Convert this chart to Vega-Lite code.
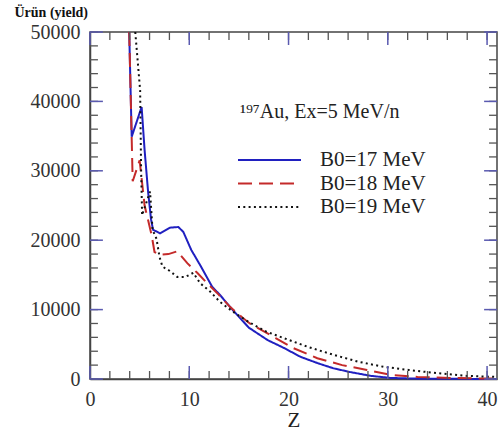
{
  "$schema": "https://vega.github.io/schema/vega-lite/v6.json",
  "width": 407,
  "height": 347,
  "autosize": "none",
  "padding": {"left": 90, "top": 32, "right": 2, "bottom": 55},
  "background": "white",
  "config": {"view": {"stroke": "#444", "strokeWidth": 1.5}},
  "datasets": {
    "curves": [
      {"z": 3.95, "yield": 50000, "series": "B0=17 MeV"},
      {"z": 4.2, "yield": 34900, "series": "B0=17 MeV"},
      {"z": 5.2, "yield": 39200, "series": "B0=17 MeV"},
      {"z": 5.5, "yield": 33000, "series": "B0=17 MeV"},
      {"z": 5.85, "yield": 27000, "series": "B0=17 MeV"},
      {"z": 6.15, "yield": 23000, "series": "B0=17 MeV"},
      {"z": 6.35, "yield": 21500, "series": "B0=17 MeV"},
      {"z": 7.05, "yield": 21000, "series": "B0=17 MeV"},
      {"z": 8.05, "yield": 21800, "series": "B0=17 MeV"},
      {"z": 8.9, "yield": 21900, "series": "B0=17 MeV"},
      {"z": 9.4, "yield": 21200, "series": "B0=17 MeV"},
      {"z": 10.2, "yield": 18600, "series": "B0=17 MeV"},
      {"z": 11.1, "yield": 16400, "series": "B0=17 MeV"},
      {"z": 12.3, "yield": 13300, "series": "B0=17 MeV"},
      {"z": 13.1, "yield": 12100, "series": "B0=17 MeV"},
      {"z": 14.4, "yield": 9900, "series": "B0=17 MeV"},
      {"z": 16.0, "yield": 7400, "series": "B0=17 MeV"},
      {"z": 17.9, "yield": 5600, "series": "B0=17 MeV"},
      {"z": 19.5, "yield": 4500, "series": "B0=17 MeV"},
      {"z": 21.2, "yield": 3200, "series": "B0=17 MeV"},
      {"z": 22.9, "yield": 2300, "series": "B0=17 MeV"},
      {"z": 24.5, "yield": 1550, "series": "B0=17 MeV"},
      {"z": 26.2, "yield": 1000, "series": "B0=17 MeV"},
      {"z": 28.3, "yield": 450, "series": "B0=17 MeV"},
      {"z": 30.3, "yield": 150, "series": "B0=17 MeV"},
      {"z": 33.0, "yield": 50, "series": "B0=17 MeV"},
      {"z": 41.0, "yield": 0, "series": "B0=17 MeV"},

      {"z": 3.95, "yield": 50000, "series": "B0=18 MeV"},
      {"z": 4.3, "yield": 28500, "series": "B0=18 MeV"},
      {"z": 5.0, "yield": 31500, "series": "B0=18 MeV"},
      {"z": 5.5, "yield": 25000, "series": "B0=18 MeV"},
      {"z": 5.85, "yield": 22900, "series": "B0=18 MeV"},
      {"z": 6.2, "yield": 20800, "series": "B0=18 MeV"},
      {"z": 6.5, "yield": 18300, "series": "B0=18 MeV"},
      {"z": 7.0, "yield": 17900, "series": "B0=18 MeV"},
      {"z": 7.9, "yield": 18000, "series": "B0=18 MeV"},
      {"z": 8.8, "yield": 18400, "series": "B0=18 MeV"},
      {"z": 9.8, "yield": 16700, "series": "B0=18 MeV"},
      {"z": 10.8, "yield": 15300, "series": "B0=18 MeV"},
      {"z": 11.8, "yield": 13800, "series": "B0=18 MeV"},
      {"z": 12.8, "yield": 12400, "series": "B0=18 MeV"},
      {"z": 14.1, "yield": 10400, "series": "B0=18 MeV"},
      {"z": 15.4, "yield": 8800, "series": "B0=18 MeV"},
      {"z": 16.1, "yield": 8000, "series": "B0=18 MeV"},
      {"z": 18.7, "yield": 5900, "series": "B0=18 MeV"},
      {"z": 20.4, "yield": 4500, "series": "B0=18 MeV"},
      {"z": 22.9, "yield": 3000, "series": "B0=18 MeV"},
      {"z": 25.4, "yield": 2000, "series": "B0=18 MeV"},
      {"z": 27.9, "yield": 1300, "series": "B0=18 MeV"},
      {"z": 30.3, "yield": 600, "series": "B0=18 MeV"},
      {"z": 33.0, "yield": 300, "series": "B0=18 MeV"},
      {"z": 36.3, "yield": 150, "series": "B0=18 MeV"},
      {"z": 41.0, "yield": 50, "series": "B0=18 MeV"},

      {"z": 4.56, "yield": 50000, "series": "B0=19 MeV"},
      {"z": 5.05, "yield": 41600, "series": "B0=19 MeV"},
      {"z": 5.15, "yield": 30000, "series": "B0=19 MeV"},
      {"z": 5.25, "yield": 23600, "series": "B0=19 MeV"},
      {"z": 6.05, "yield": 27000, "series": "B0=19 MeV"},
      {"z": 6.3, "yield": 21500, "series": "B0=19 MeV"},
      {"z": 6.7, "yield": 20200, "series": "B0=19 MeV"},
      {"z": 7.0, "yield": 17600, "series": "B0=19 MeV"},
      {"z": 7.3, "yield": 16200, "series": "B0=19 MeV"},
      {"z": 8.0, "yield": 15600, "series": "B0=19 MeV"},
      {"z": 8.8, "yield": 14700, "series": "B0=19 MeV"},
      {"z": 9.6, "yield": 14700, "series": "B0=19 MeV"},
      {"z": 10.4, "yield": 15300, "series": "B0=19 MeV"},
      {"z": 11.1, "yield": 13800, "series": "B0=19 MeV"},
      {"z": 12.1, "yield": 12600, "series": "B0=19 MeV"},
      {"z": 13.1, "yield": 11100, "series": "B0=19 MeV"},
      {"z": 14.4, "yield": 9700, "series": "B0=19 MeV"},
      {"z": 16.0, "yield": 8200, "series": "B0=19 MeV"},
      {"z": 17.8, "yield": 6800, "series": "B0=19 MeV"},
      {"z": 19.5, "yield": 5900, "series": "B0=19 MeV"},
      {"z": 22.0, "yield": 4600, "series": "B0=19 MeV"},
      {"z": 24.5, "yield": 3500, "series": "B0=19 MeV"},
      {"z": 27.0, "yield": 2500, "series": "B0=19 MeV"},
      {"z": 29.6, "yield": 1750, "series": "B0=19 MeV"},
      {"z": 32.1, "yield": 1300, "series": "B0=19 MeV"},
      {"z": 34.6, "yield": 900, "series": "B0=19 MeV"},
      {"z": 38.0, "yield": 450, "series": "B0=19 MeV"},
      {"z": 41.0, "yield": 300, "series": "B0=19 MeV"}
    ],
    "xticks": [{"z": 0}, {"z": 2}, {"z": 4}, {"z": 6}, {"z": 8}, {"z": 10}, {"z": 12}, {"z": 14}, {"z": 16}, {"z": 18}, {"z": 20}, {"z": 22}, {"z": 24}, {"z": 26}, {"z": 28}, {"z": 30}, {"z": 32}, {"z": 34}, {"z": 36}, {"z": 38}, {"z": 40}],
    "yticks": [{"yield": 0}, {"yield": 2000}, {"yield": 4000}, {"yield": 6000}, {"yield": 8000}, {"yield": 10000}, {"yield": 12000}, {"yield": 14000}, {"yield": 16000}, {"yield": 18000}, {"yield": 20000}, {"yield": 22000}, {"yield": 24000}, {"yield": 26000}, {"yield": 28000}, {"yield": 30000}, {"yield": 32000}, {"yield": 34000}, {"yield": 36000}, {"yield": 38000}, {"yield": 40000}, {"yield": 42000}, {"yield": 44000}, {"yield": 46000}, {"yield": 48000}, {"yield": 50000}],
    "one": [{"note": "¹⁹⁷Au, Ex=5 MeV/n"}]
  },
  "layer": [
    {
      "data": {"name": "curves"},
      "mark": {"type": "line", "strokeWidth": 2},
      "encoding": {
        "x": {
          "field": "z", "type": "quantitative", "title": "Z",
          "scale": {"domain": [0, 41], "nice": false, "zero": false},
          "axis": {
            "orient": "bottom", "title": "Z",
            "values": [0, 10, 20, 30, 40],
            "ticks": false, "tickSize": 0, "grid": false,
            "domainColor": "#444", "domainWidth": 1.5,
            "labelFont": "Liberation Serif", "labelFontSize": 20, "labelColor": "#333",
            "labelPadding": 10, "labelFlush": false,
            "titleFont": "Liberation Serif", "titleFontSize": 21, "titleFontWeight": "normal",
            "titleColor": "#222", "titlePadding": 0
          }
        },
        "y": {
          "field": "yield", "type": "quantitative", "title": "Ürün (yield)",
          "scale": {"domain": [0, 50000], "nice": false},
          "axis": {
            "orient": "left",
            "values": [0, 10000, 20000, 30000, 40000, 50000],
            "format": "d",
            "ticks": false, "tickSize": 0, "grid": false,
            "domainColor": "#444", "domainWidth": 1.5,
            "labelFont": "Liberation Serif", "labelFontSize": 20, "labelColor": "#333",
            "labelPadding": 10, "labelFlush": false,
            "title": "Ürün (yield)", "titleAngle": 0, "titleAlign": "left", "titleBaseline": "middle",
            "titleX": -76, "titleY": -20,
            "titleFont": "Liberation Serif", "titleFontSize": 14, "titleFontWeight": "bold", "titleColor": "#111"
          }
        },
        "color": {
          "field": "series", "type": "nominal",
          "scale": {"domain": ["B0=17 MeV", "B0=18 MeV", "B0=19 MeV"], "range": ["#2020c0", "#c42a2a", "#111111"]},
          "legend": {
            "orient": "none", "legendX": 147, "legendY": 118, "title": null,
            "symbolType": "stroke", "symbolSize": 3969, "symbolStrokeWidth": 2,
            "clipHeight": 20,
            "labelFont": "Liberation Serif", "labelFontSize": 21, "labelColor": "#222",
            "labelOffset": 18, "rowPadding": 2.5
          }
        },
        "strokeDash": {
          "field": "series", "type": "nominal",
          "scale": {"domain": ["B0=17 MeV", "B0=18 MeV", "B0=19 MeV"], "range": [[1, 0], [14, 7], [2, 3.3]]}
        }
      }
    },
    {
      "data": {"name": "xticks"},
      "mark": {"type": "rule", "color": "#555", "strokeWidth": 1.3},
      "encoding": {
        "x": {"field": "z", "type": "quantitative", "title": "Z"},
        "y": {"datum": 0, "type": "quantitative"},
        "y2": {"datum": 1150}
      }
    },
    {
      "data": {"name": "xticks"},
      "mark": {"type": "rule", "color": "#555", "strokeWidth": 1.3},
      "encoding": {
        "x": {"field": "z", "type": "quantitative", "title": "Z"},
        "y": {"datum": 50000, "type": "quantitative"},
        "y2": {"datum": 48850}
      }
    },
    {
      "data": {"name": "xticks"},
      "transform": [{"filter": "datum.z % 10 == 0"}],
      "mark": {"type": "rule", "color": "#5a5ab0", "strokeWidth": 1.5},
      "encoding": {
        "x": {"field": "z", "type": "quantitative", "title": "Z"},
        "y": {"datum": 0, "type": "quantitative"},
        "y2": {"datum": 1870}
      }
    },
    {
      "data": {"name": "xticks"},
      "transform": [{"filter": "datum.z % 10 == 0"}],
      "mark": {"type": "rule", "color": "#5a5ab0", "strokeWidth": 1.5},
      "encoding": {
        "x": {"field": "z", "type": "quantitative", "title": "Z"},
        "y": {"datum": 50000, "type": "quantitative"},
        "y2": {"datum": 48130}
      }
    },
    {
      "data": {"name": "yticks"},
      "mark": {"type": "rule", "color": "#555", "strokeWidth": 1.3},
      "encoding": {
        "y": {"field": "yield", "type": "quantitative", "title": "Ürün (yield)"},
        "x": {"datum": 0, "type": "quantitative"},
        "x2": {"datum": 0.8}
      }
    },
    {
      "data": {"name": "yticks"},
      "mark": {"type": "rule", "color": "#555", "strokeWidth": 1.3},
      "encoding": {
        "y": {"field": "yield", "type": "quantitative", "title": "Ürün (yield)"},
        "x": {"datum": 41, "type": "quantitative"},
        "x2": {"datum": 40.2}
      }
    },
    {
      "data": {"name": "yticks"},
      "transform": [{"filter": "datum.yield % 10000 == 0"}],
      "mark": {"type": "rule", "color": "#5a5ab0", "strokeWidth": 1.5},
      "encoding": {
        "y": {"field": "yield", "type": "quantitative", "title": "Ürün (yield)"},
        "x": {"datum": 0, "type": "quantitative"},
        "x2": {"datum": 1.3}
      }
    },
    {
      "data": {"name": "yticks"},
      "transform": [{"filter": "datum.yield % 10000 == 0"}],
      "mark": {"type": "rule", "color": "#5a5ab0", "strokeWidth": 1.5},
      "encoding": {
        "y": {"field": "yield", "type": "quantitative", "title": "Ürün (yield)"},
        "x": {"datum": 41, "type": "quantitative"},
        "x2": {"datum": 39.7}
      }
    },
    {
      "data": {"name": "one"},
      "mark": {"type": "text", "align": "left", "baseline": "alphabetic", "font": "Liberation Serif", "fontSize": 20, "color": "#222"},
      "encoding": {
        "x": {"datum": 15.1, "type": "quantitative"},
        "y": {"datum": 37600, "type": "quantitative"},
        "text": {"field": "note"}
      }
    }
  ]
}
